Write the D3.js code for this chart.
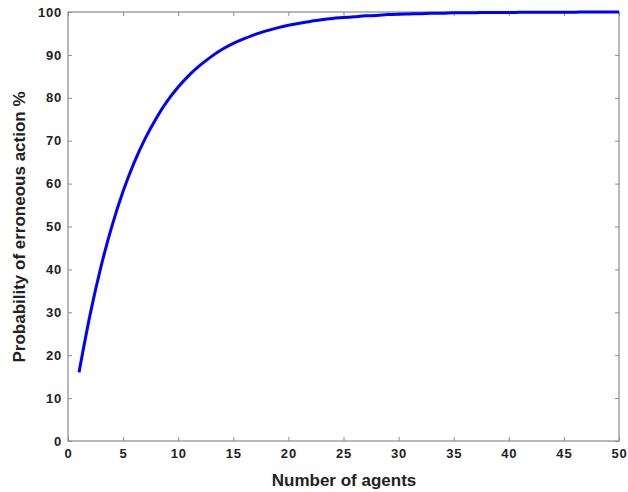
<!DOCTYPE html>
<html>
<head>
<meta charset="utf-8">
<script src="https://cdn.jsdelivr.net/npm/d3@7"></script>
<style>
  body { margin: 0; background: #fff; }
  svg { font-family: "Liberation Sans", Arial, sans-serif; }
</style>
</head>
<body>
<script>
// Values
const agents = d3.range(1, 51);
const probability = [
  16.0, 29.4, 40.7, 50.2, 58.2, 64.9, 70.5, 75.2, 79.2, 82.5,
  85.3, 87.6, 89.6, 91.3, 92.7, 93.8, 94.8, 95.6, 96.3, 96.9,
  97.4, 97.8, 98.2, 98.5, 98.7, 98.9, 99.1, 99.2, 99.4, 99.5,
  99.55, 99.6, 99.7, 99.7, 99.8, 99.8, 99.85, 99.9, 99.9, 99.9,
  99.92, 99.94, 99.95, 99.96, 99.96, 99.97, 99.98, 99.98, 99.99, 99.99
];
const xTicks = [0, 5, 10, 15, 20, 25, 30, 35, 40, 45, 50];
const yTicks = [0, 10, 20, 30, 40, 50, 60, 70, 80, 90, 100];

const W = 628, H = 492;
const margin = { top: 12, right: 9, bottom: 51, left: 68 };
const width = W - margin.left - margin.right;
const height = H - margin.top - margin.bottom;

const svg = d3.select("body").append("svg")
    .attr("width", W)
    .attr("height", H);

const g = svg.append("g")
    .attr("transform", `translate(${margin.left},${margin.top})`);

const x = d3.scaleLinear().domain([0, 50]).range([0, width]);
const y = d3.scaleLinear().domain([0, 100]).range([height, 0]);

const axisColor = "#8a8a8a";
const tickLen = 4;

// bottom axis, ticks pointing in
g.append("g")
    .attr("transform", `translate(0,${height})`)
    .call(d3.axisBottom(x).tickValues(xTicks).tickSizeInner(-tickLen).tickSizeOuter(0).tickPadding(8));

// left axis
g.append("g")
    .attr("class", "yaxis")
    .call(d3.axisLeft(y).tickValues(yTicks).tickSizeInner(-tickLen).tickSizeOuter(0).tickPadding(6));

// top and right mirror ticks
g.append("g")
    .call(d3.axisTop(x).tickValues(xTicks).tickSizeInner(-tickLen).tickSizeOuter(0).tickFormat(""));
g.append("g")
    .attr("transform", `translate(${width},0)`)
    .call(d3.axisRight(y).tickValues(yTicks).tickSizeInner(-tickLen).tickSizeOuter(0).tickFormat(""));

g.selectAll(".domain").remove();
g.selectAll(".tick line").attr("stroke", axisColor);

g.append("rect")
    .attr("width", width)
    .attr("height", height)
    .attr("fill", "none")
    .attr("stroke", axisColor)
    .attr("stroke-width", 1.2);

g.selectAll(".tick text")
    .attr("fill", "#222")
    .style("font-size", "13px")
    .style("font-weight", "bold")
    .style("letter-spacing", "0.8px");

// the curve
const line = d3.line()
    .x((d, i) => x(agents[i]))
    .y(d => y(d))
    .curve(d3.curveMonotoneX);

g.append("path")
    .datum(probability)
    .attr("fill", "none")
    .attr("stroke", "#0000ff")
    .attr("stroke-width", 3)
    .attr("d", line);

// axis labels
svg.append("text")
    .attr("x", 344)
    .attr("y", 486)
    .attr("text-anchor", "middle")
    .attr("fill", "#222")
    .style("font-size", "17px")
    .style("font-weight", "bold")
    .text("Number of agents");

svg.append("text")
    .attr("transform", `translate(25,227) rotate(-90)`)
    .attr("text-anchor", "middle")
    .attr("fill", "#222")
    .style("font-size", "17px")
    .style("font-weight", "bold")
    .text("Probability of erroneous action %");
</script>
</body>
</html>
